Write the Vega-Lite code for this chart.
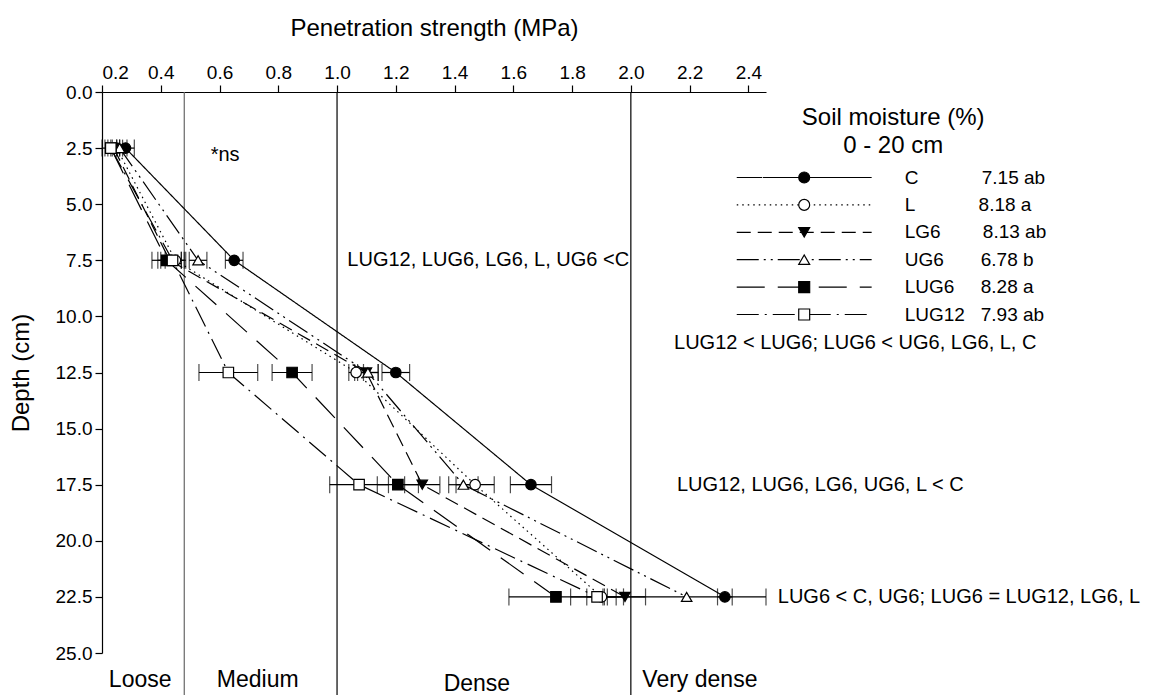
{
  "$schema": "https://vega.github.io/schema/vega-lite/v6.json",
  "width": 664,
  "height": 561,
  "autosize": {"type": "none"},
  "padding": {"left": 102, "top": 92, "right": 390, "bottom": 42},
  "background": "white",
  "config": {
    "font": "Liberation Sans",
    "view": {"stroke": null},
    "axis": {
      "grid": false,
      "domainColor": "black",
      "tickColor": "black",
      "labelColor": "black",
      "titleColor": "black",
      "labelFont": "Liberation Sans",
      "titleFont": "Liberation Sans",
      "labelFontSize": 19,
      "titleFontSize": 24,
      "titleFontWeight": "normal",
      "domainWidth": 1.2,
      "tickWidth": 1.2,
      "tickSize": 7,
      "labelPadding": 3
    },
    "legend": {
      "labelFont": "Liberation Sans",
      "titleFont": "Liberation Sans",
      "labelColor": "black",
      "titleColor": "black"
    }
  },
  "datasets": {
    "pen": [
      {"series": "C", "depth": 2.5, "ps": 0.28, "se": 0.03},
      {"series": "C", "depth": 7.5, "ps": 0.65, "se": 0.03},
      {"series": "C", "depth": 12.5, "ps": 1.2, "se": 0.047},
      {"series": "C", "depth": 17.5, "ps": 1.66, "se": 0.07},
      {"series": "C", "depth": 22.5, "ps": 2.32, "se": 0.025},
      {"series": "L", "depth": 2.5, "ps": 0.25, "se": 0.02},
      {"series": "L", "depth": 7.5, "ps": 0.45, "se": 0.035},
      {"series": "L", "depth": 12.5, "ps": 1.065, "se": 0.025},
      {"series": "L", "depth": 17.5, "ps": 1.47, "se": 0.065},
      {"series": "L", "depth": 22.5, "ps": 1.9, "se": 0.05},
      {"series": "LG6", "depth": 2.5, "ps": 0.24, "se": 0.02},
      {"series": "LG6", "depth": 7.5, "ps": 0.43, "se": 0.04},
      {"series": "LG6", "depth": 12.5, "ps": 1.1, "se": 0.04},
      {"series": "LG6", "depth": 17.5, "ps": 1.29, "se": 0.06},
      {"series": "LG6", "depth": 22.5, "ps": 1.98, "se": 0.07},
      {"series": "UG6", "depth": 2.5, "ps": 0.26, "se": 0.025},
      {"series": "UG6", "depth": 7.5, "ps": 0.527, "se": 0.03},
      {"series": "UG6", "depth": 12.5, "ps": 1.105, "se": 0.035},
      {"series": "UG6", "depth": 17.5, "ps": 1.43, "se": 0.05},
      {"series": "UG6", "depth": 22.5, "ps": 2.19, "se": 0.27},
      {"series": "LUG6", "depth": 2.5, "ps": 0.23, "se": 0.02},
      {"series": "LUG6", "depth": 7.5, "ps": 0.42, "se": 0.05},
      {"series": "LUG6", "depth": 12.5, "ps": 0.847, "se": 0.068},
      {"series": "LUG6", "depth": 17.5, "ps": 1.207, "se": 0.07},
      {"series": "LUG6", "depth": 22.5, "ps": 1.745, "se": 0.16},
      {"series": "LUG12", "depth": 2.5, "ps": 0.23, "se": 0.03},
      {"series": "LUG12", "depth": 7.5, "ps": 0.44, "se": 0.04},
      {"series": "LUG12", "depth": 12.5, "ps": 0.63, "se": 0.1},
      {"series": "LUG12", "depth": 17.5, "ps": 1.075, "se": 0.1},
      {"series": "LUG12", "depth": 22.5, "ps": 1.885, "se": 0.09}
    ],
    "refs": [
      {"x": 0.48},
      {"x": 1.0},
      {"x": 2.0}
    ],
    "notes": [
      {"x": 0.57, "y": 2.8, "text": "*ns"},
      {"x": 1.035, "y": 7.5, "text": "LUG12, LUG6, LG6, L, UG6 <C"},
      {"x": 2.147, "y": 11.2, "text": "LUG12 < LUG6; LUG6 < UG6, LG6, L, C"},
      {"x": 2.157, "y": 17.5, "text": "LUG12, LUG6, LG6, UG6, L < C"},
      {"x": 2.5, "y": 22.5, "text": "LUG6 < C, UG6; LUG6 = LUG12, LG6, L"}
    ],
    "zones": [
      {"x": 0.33, "y": 26.2, "text": "Loose"},
      {"x": 0.73, "y": 26.2, "text": "Medium"},
      {"x": 1.476, "y": 26.4, "text": "Dense"},
      {"x": 2.235, "y": 26.2, "text": "Very dense"}
    ]
  },
  "layer": [
    {
      "data": {"name": "refs"},
      "mark": {"type": "rule", "strokeWidth": 1.2},
      "encoding": {
        "x": {
          "field": "x", "type": "quantitative",
          "title": "Penetration strength (MPa)",
          "scale": {"domain": [0.2, 2.46], "nice": false, "zero": false},
          "axis": {
            "orient": "top",
            "values": [0.2, 0.4, 0.6, 0.8, 1.0, 1.2, 1.4, 1.6, 1.8, 2.0, 2.2, 2.4],
            "format": ".1f",
            "titlePadding": 23
          }
        },
        "y": {
          "datum": 0, "type": "quantitative",
          "title": "Depth (cm)",
          "scale": {"domain": [0, 25], "reverse": true, "nice": false, "zero": false},
          "axis": {
            "values": [0, 2.5, 5, 7.5, 10, 12.5, 15, 17.5, 20, 22.5, 25],
            "format": ".1f",
            "titlePadding": 22
          }
        },
        "y2": {"datum": 26.9},
        "color": {"condition": {"test": "datum.x < 0.5", "value": "#666666"}, "value": "black"}
      }
    },
    {
      "data": {"name": "pen"},
      "mark": {"type": "line", "stroke": "black", "strokeWidth": 1.2},
      "encoding": {
        "x": {"field": "ps", "type": "quantitative", "title": "Penetration strength (MPa)"},
        "y": {"field": "depth", "type": "quantitative", "title": "Depth (cm)"},
        "order": {"field": "depth", "type": "quantitative"},
        "strokeDash": {
          "field": "series", "type": "nominal",
          "sort": ["C", "L", "LG6", "UG6", "LUG6", "LUG12"],
          "scale": {
            "range": [[1, 0], [1.5, 4], [14, 7], [22, 5, 2, 5, 2, 5], [28, 13], [22, 6, 2, 6]]
          },
          "legend": {
            "orient": "none",
            "legendX": 638.2,
            "legendY": 14,
            "zindex": 0,
            "title": ["Soil moisture (%)", "0 - 20 cm"],
            "titleFontSize": 24,
            "titleFontWeight": "normal",
            "titleAnchor": "middle",
            "titleAlign": "center",
            "titleLineHeight": 28,
            "titlePadding": 10,
            "titleLimit": 500,
            "symbolType": "M-10,0H10",
            "symbolSize": 182,
            "symbolOffset": 54.5,
            "symbolStrokeColor": "black",
            "symbolStrokeWidth": 1.2,
            "symbolFillColor": "transparent",
            "labelFontSize": 19,
            "labelOffset": 91,
            "labelLimit": 500,
            "rowPadding": 7.4,
            "labelExpr": "datum.label == 'C' ? 'C\u00a0\u00a0\u00a0\u00a0\u00a0\u00a0\u00a0\u00a0\u00a0\u00a0\u00a0\u00a07.15 ab' : datum.label == 'L' ? 'L\u00a0\u00a0\u00a0\u00a0\u00a0\u00a0\u00a0\u00a0\u00a0\u00a0\u00a0\u00a08.18 a' : datum.label == 'LG6' ? 'LG6\u00a0\u00a0\u00a0\u00a0\u00a0\u00a0\u00a0\u00a08.13 ab' : datum.label == 'UG6' ? 'UG6\u00a0\u00a0\u00a0\u00a0\u00a0\u00a0\u00a06.78 b' : datum.label == 'LUG6' ? 'LUG6\u00a0\u00a0\u00a0\u00a0\u00a08.28 a' : 'LUG12\u00a0\u00a0\u00a07.93 ab'"
          }
        }
      }
    },
    {
      "data": {"name": "pen"},
      "mark": {
        "type": "errorbar",
        "color": "black",
        "thickness": 1.2,
        "ticks": {"size": 17, "thickness": 1.2, "color": "black"}
      },
      "encoding": {
        "x": {"field": "ps", "type": "quantitative", "title": "Penetration strength (MPa)"},
        "xError": {"field": "se"},
        "y": {"field": "depth", "type": "quantitative", "title": "Depth (cm)"}
      }
    },
    {
      "data": {"name": "pen"},
      "mark": {"type": "point", "filled": true, "stroke": "black", "strokeWidth": 1.2, "opacity": 1, "size": 110},
      "encoding": {
        "x": {"field": "ps", "type": "quantitative", "title": "Penetration strength (MPa)"},
        "y": {"field": "depth", "type": "quantitative", "title": "Depth (cm)"},
        "shape": {
          "field": "series", "type": "nominal",
          "scale": {
            "domain": ["C", "L", "LG6", "UG6", "LUG6", "LUG12"],
            "range": ["circle", "circle", "triangle-down", "triangle-up", "square", "square"]
          },
          "legend": {
            "orient": "none",
            "legendX": 638.2,
            "legendY": 76,
            "zindex": 1,
            "title": null,
            "labelExpr": "''",
            "labelFontSize": 19,
            "labelOffset": 91,
            "rowPadding": 7.4,
            "symbolSize": 120,
            "symbolOffset": 54.5,
            "symbolStrokeColor": "black",
            "symbolStrokeWidth": 1.2,
            "encoding": {
              "symbols": {
                "fill": {"condition": {"test": "datum.value == 'L' || datum.value == 'UG6' || datum.value == 'LUG12'", "value": "white"}, "value": "black"},
                "stroke": {"value": "black"},
                "strokeWidth": {"value": 1.2}
              }
            }
          }
        },
        "fill": {
          "field": "series", "type": "nominal",
          "scale": {
            "domain": ["C", "L", "LG6", "UG6", "LUG6", "LUG12"],
            "range": ["black", "white", "black", "white", "black", "white"]
          },
          "legend": null
        }
      }
    },
    {
      "data": {"name": "notes"},
      "mark": {"type": "text", "align": "left", "baseline": "middle", "fontSize": 20, "color": "black"},
      "encoding": {
        "x": {"field": "x", "type": "quantitative", "title": "Penetration strength (MPa)"},
        "y": {"field": "y", "type": "quantitative", "title": "Depth (cm)"},
        "text": {"field": "text"}
      }
    },
    {
      "data": {"name": "zones"},
      "mark": {"type": "text", "align": "center", "baseline": "middle", "fontSize": 23, "color": "black"},
      "encoding": {
        "x": {"field": "x", "type": "quantitative", "title": "Penetration strength (MPa)"},
        "y": {"field": "y", "type": "quantitative", "title": "Depth (cm)"},
        "text": {"field": "text"}
      }
    }
  ]
}
